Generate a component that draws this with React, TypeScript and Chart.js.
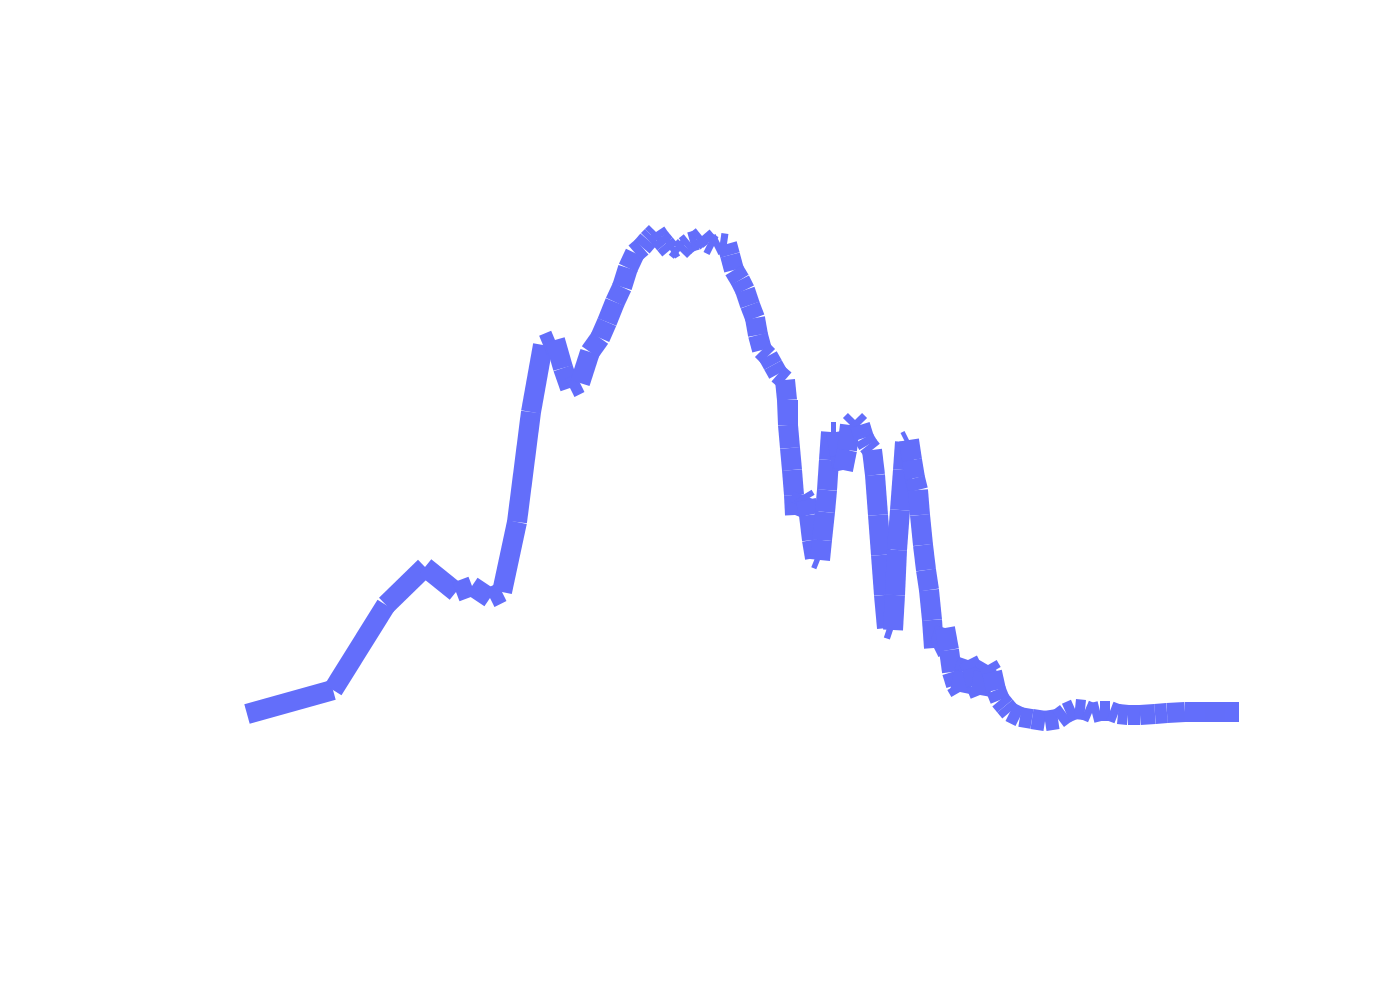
import React, { useEffect, useRef } from "react";
import { Chart, registerables } from "chart.js";

Chart.register(...registerables);

const xValues: number[] = [
  0.2, 8.8, 14.1, 18.0, 21.1, 22.7, 24.5, 25.7, 27.2, 28.6,
  29.8, 31.0, 31.8, 32.5, 33.5, 34.5, 35.5, 36.2, 37.0, 37.7,
  38.3, 39.0, 39.7, 40.3, 40.7, 41.1, 41.5, 42.0, 42.5, 43.0,
  43.5, 44.0, 44.5, 45.2, 45.7, 46.3, 46.9, 47.5, 48.2, 48.5,
  48.9, 49.5, 50.0, 50.5, 51.0, 51.3, 51.7, 52.3, 52.8, 53.3,
  54.0, 54.2, 54.3,
  54.5, 54.7, 54.9, 55.0, 55.4, 55.8, 56.1, 56.4, 56.7, 57.0,
  57.5, 57.7, 58.0, 58.2, 58.4, 58.6, 59.1, 59.5, 59.8, 60.2,
  60.5, 61.0, 61.5, 61.9, 62.3, 62.7, 63.0, 63.3, 63.6, 63.9,
  64.2, 64.8, 65.0, 65.2, 65.5, 65.8, 66.0, 66.4, 66.7, 67.0,
  67.3, 67.5, 67.8, 68.1, 68.4, 68.7, 68.9, 69.5, 70.0, 70.4,
  70.7, 71.1, 71.5, 71.9, 72.3, 72.7, 73.1, 73.5, 73.9, 74.3,
  74.7, 75.1, 75.5, 76.0, 76.5,
  77.5, 78.7, 80.0, 81.3, 82.1, 83.0, 84.0, 84.7, 85.5, 86.5,
  87.3, 88.3, 89.5, 91.0, 92.2, 94.0, 96.0, 98.0, 99.4,
];

const yValues: number[] = [
  -0.4, 4.4, 21.4, 29.0, 24.0, 25.2, 22.8, 24.0, 38.0, 60.0,
  73.4, 74.4, 68.8, 64.8, 65.8, 72.0, 74.8, 78.0, 82.0, 85.0,
  88.8, 91.8, 93.0, 94.4, 95.2, 96.0, 94.8, 93.6, 92.4, 93.0,
  92.2, 93.2, 94.0, 94.4, 95.2, 93.8, 93.2, 93.8, 93.6, 91.4,
  88.4, 86.4, 84.4, 81.4, 78.8, 75.4, 72.4, 71.2, 69.4, 67.6,
  66.4, 62.4, 57.4,
  52.8, 48.4, 43.4, 39.4, 41.4, 43.4, 42.4, 39.4, 34.4, 30.8,
  30.4, 34.4, 40.0, 44.4, 50.4, 56.0, 56.0, 51.4, 48.4, 52.4,
  57.4, 58.4, 57.4, 54.8, 53.4, 52.4, 47.4, 39.4, 31.4, 23.4,
  16.8, 16.4, 23.4, 32.4, 40.4, 48.4, 54.0, 54.4, 50.4, 46.8,
  44.4, 39.4, 33.4, 28.4, 24.4, 18.4, 12.8, 13.4, 16.8, 12.4,
  8.0, 5.4, 4.0, 8.0, 10.4, 8.8, 5.4, 3.4, 8.0, 9.4,
  8.0, 4.4, 2.4, 1.2, 0.0,
  -1.0, -1.4, -1.8, -1.4, -0.2, 0.6, 0.4, -0.2, 0.2, 0.2,
  -0.4, -0.6, -0.6, -0.4, -0.2, 0.0, 0.0, 0.0, 0.0,
];

const LINE_COLOR = "#636efa";
const LINE_COLOR_ALT = "#636efb";

export default function App() {
  const canvasRef = useRef<HTMLCanvasElement | null>(null);

  useEffect(() => {
    const canvas = canvasRef.current;
    if (!canvas) return;
    const points = xValues.map((x, i) => ({ x, y: yValues[i] }));
    const chart = new Chart(canvas, {
      type: "line",
      data: {
        datasets: [
          {
            data: points,
            borderColor: LINE_COLOR,
            borderWidth: 20,
            borderCapStyle: "butt",
            pointRadius: 0,
            pointHoverRadius: 0,
            fill: false,
            tension: 0,
            clip: false as any,
            segment: {
              borderColor: (ctx: any) =>
                ctx.p0DataIndex % 2 === 0 ? LINE_COLOR : LINE_COLOR_ALT,
            },
          },
        ],
      },
      options: {
        animation: false,
        responsive: false,
        maintainAspectRatio: false,
        layout: { padding: { left: 245, right: 155, top: 112, bottom: 138 } },
        plugins: {
          legend: { display: false },
          tooltip: { enabled: false },
          title: { display: false },
        },
        scales: {
          x: { type: "linear", min: 0, max: 100, display: false },
          y: { type: "linear", min: -30, max: 120, display: false },
        },
      },
    });
    return () => chart.destroy();
  }, []);

  return (
    <div
      style={{
        position: "fixed",
        left: 0,
        top: 0,
        width: 1400,
        height: 1000,
        background: "#ffffff",
      }}
    >
      <canvas
        ref={canvasRef}
        width={1400}
        height={1000}
        style={{ width: 1400, height: 1000, display: "block" }}
      />
    </div>
  );
}
